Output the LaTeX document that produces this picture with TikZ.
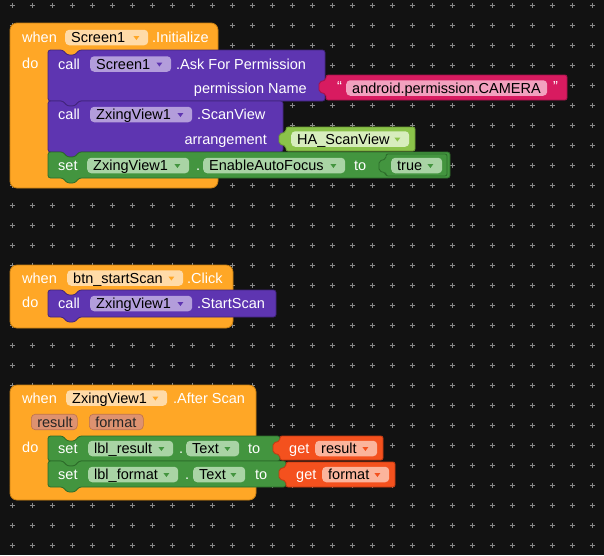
\documentclass[tikz,border=0pt]{standalone}
\usepackage{fontspec}
\setmainfont{Liberation Sans}
\usetikzlibrary{calc}
\definecolor{bg}{HTML}{121212}
\definecolor{gridc}{HTML}{8A8A8A}
\definecolor{evt}{HTML}{FFA726}
\definecolor{evtdk}{HTML}{C77F12}
\definecolor{evtfld}{HTML}{FFDBA8}
\definecolor{prc}{HTML}{5E35B1}
\definecolor{prcdk}{HTML}{41247C}
\definecolor{prcfld}{HTML}{B39DDB}
\definecolor{setg}{HTML}{43953F}
\definecolor{setdk}{HTML}{2C6B2A}
\definecolor{setfld}{HTML}{A9D4A5}
\definecolor{lgr}{HTML}{8BC34A}
\definecolor{lgrdk}{HTML}{6A9A33}
\definecolor{lgrfld}{HTML}{D7EDBD}
\definecolor{txtc}{HTML}{D81B60}
\definecolor{txtdk}{HTML}{A3124A}
\definecolor{txtfld}{HTML}{F2A1BF}
\definecolor{getc}{HTML}{F4511E}
\definecolor{getdk}{HTML}{BF3A12}
\definecolor{getfld}{HTML}{FBB49C}
\definecolor{prm}{HTML}{DE9270}
\definecolor{prmdk}{HTML}{BC7252}
\newcommand\stmtblock[6]{%
 \filldraw[fill=#1, draw=#2, line width=0.8pt, rounded corners=2.5pt] (#3,#4) -- ({#3+15},#4) -- ({#3+19},{#4+5}) -- ({#3+27},{#4+5}) -- ({#3+31},#4) -- ({#3+#5},#4) -- ({#3+#5},{#4+#6}) -- ({#3+31},{#4+#6}) -- ({#3+27},{#4+#6+5}) -- ({#3+19},{#4+#6+5}) -- ({#3+15},{#4+#6}) -- (#3,{#4+#6}) -- cycle;}
\newcommand\valblock[6]{%
 \filldraw[fill=#1, draw=#2, line width=0.8pt, rounded corners=2pt] (#3,#4) -- ({#3+#5},#4) -- ({#3+#5},{#4+#6}) -- (#3,{#4+#6}) -- (#3,{#4+19}) -- ({#3-7},{#4+17}) -- ({#3-7},{#4+7}) -- (#3,{#4+5}) -- cycle;}
\newcommand\dd[2]{\fill[#2] ($(#1.east)+(-15,-1.5)$) -- ++(6,0) -- ++(-3,4) -- cycle;}
\tikzset{
 lbl/.style={anchor=west, inner sep=0pt, text height=10pt, text depth=0pt, text=white, font=\fontsize{14.5}{16}\selectfont},
 lble/.style={lbl, anchor=east},
 fld/.style={anchor=west, inner xsep=6pt, inner ysep=0pt, minimum height=15.5pt, text height=10pt, text depth=0pt, rounded corners=4pt, align=left, text=black, font=\fontsize{14.5}{16}\selectfont},
 prmfld/.style={fld, fill=prm, draw=prmdk, line width=0.6pt, text=black!85}
}
\begin{document}
\begin{tikzpicture}[x=1pt,y=-1pt]
\useasboundingbox (0,0) rectangle (604,555);
\fill[bg] (0,0) rectangle (604,555);
\foreach \i in {0,...,29} \foreach \j in {0,...,27} {
  \draw[gridc, line width=1pt] ({12+20*\i-2.5},{5+20*\j}) -- ++(5,0) ({12+20*\i},{5+20*\j-2.5}) -- ++(0,5);
}
% ---------- block shapes
\filldraw[fill=evt, draw=evtdk, line width=0.8pt, rounded corners=7pt] (10,23) rectangle (218,188);
\stmtblock{prc}{prcdk}{48}{50}{277}{51}
\stmtblock{prc}{prcdk}{48}{101}{235}{51}
\stmtblock{setg}{setdk}{48}{152}{402}{26}
\valblock{txtc}{txtdk}{326}{75}{241}{25}
\valblock{lgr}{lgrdk}{286}{127}{129}{24}
\valblock{setg}{setdk}{386}{154}{61}{22}

\filldraw[fill=evt, draw=evtdk, line width=0.8pt, rounded corners=7pt] (10,265) rectangle (233,328);
\stmtblock{prc}{prcdk}{48}{290}{228}{27}

\filldraw[fill=evt, draw=evtdk, line width=0.8pt, rounded corners=7pt] (10,385) rectangle (256,500);
\stmtblock{setg}{setdk}{48}{436}{232}{25}
\stmtblock{setg}{setdk}{48}{461}{238}{26}
\valblock{getc}{getdk}{280}{436}{103}{24}
\valblock{getc}{getdk}{286}{462}{109}{25}

% ---------- block 1 texts
\node[lbl] (w1) at (22,37.5) {when};
\node[fld, fill=evtfld, text width=71pt] (f1) at (65,37.5) {Screen1}; \dd{f1}{evt}
\node[lbl] (i1) at (152,37.5) {.Initialize};
\node[lbl] (d1) at (22,63) {do};
\node[lbl] (c1) at (58,64) {call};
\node[fld, fill=prcfld, text width=69pt] (f2) at (90,64) {Screen1}; \dd{f2}{prc}
\node[lbl] (a1) at (176,64) {.Ask For Permission};
\node[lble] (p1) at (307,88) {permission Name};
\node[lbl] (q1) at (337,86.5) {“};
\node[fld, fill=txtfld, text width=189pt] (f3) at (346,88) {android.permission.CAMERA};
\node[lbl] (q2) at (553,86.5) {”};
\node[lbl] (c2) at (58,114.5) {call};
\node[fld, fill=prcfld, text width=90pt] (f4) at (90,114.5) {ZxingView1}; \dd{f4}{prc}
\node[lbl] (s1) at (197,114.5) {.ScanView};
\node[lble] (ar) at (267,139) {arrangement};
\node[fld, fill=lgrfld, text width=106pt] (f5) at (291,139) {HA\_ScanView}; \dd{f5}{lgr}
\node[lbl] (st1) at (58,165.5) {set};
\node[fld, fill=setfld, text width=90pt] (f6) at (87,165.5) {ZxingView1}; \dd{f6}{setg}
\node[lbl] (dot1) at (196,165.5) {.};
\node[fld, fill=setfld, text width=130pt] (f7) at (203,165.5) {EnableAutoFocus}; \dd{f7}{setg}
\node[lbl] (to1) at (354,165.5) {to};
\node[fld, fill=setfld, text width=39pt] (f8) at (391,165.5) {true}; \dd{f8}{setg}

% ---------- block 2 texts
\node[lbl] (w2) at (22,278) {when};
\node[fld, fill=evtfld, text width=104pt] (f9) at (67,278) {btn\_startScan}; \dd{f9}{evt}
\node[lbl] (ck) at (187,278) {.Click};
\node[lbl] (d2) at (22,302) {do};
\node[lbl] (c3) at (58,303.5) {call};
\node[fld, fill=prcfld, text width=90pt] (f10) at (90,303.5) {ZxingView1}; \dd{f10}{prc}
\node[lbl] (ss) at (197,303.5) {.StartScan};

% ---------- block 3 texts
\node[lbl] (w3) at (22,398) {when};
\node[fld, fill=evtfld, text width=89pt] (f11) at (66,398) {ZxingView1}; \dd{f11}{evt}
\node[lbl] (as) at (173,398) {.After Scan};
\node[prmfld, text width=34pt] (r1) at (31,422) {result};
\node[prmfld, text width=42pt] (r2) at (89,422) {format};
\node[lbl] (d3) at (22,447) {do};
\node[lbl] (st2) at (58,448.5) {set};
\node[fld, fill=setfld, text width=73pt] (f12) at (88,448.5) {lbl\_result}; \dd{f12}{setg}
\node[lbl] (dot2) at (179,448.5) {.};
\node[fld, fill=setfld, text width=41pt] (f13) at (186,448.5) {Text}; \dd{f13}{setg}
\node[lbl] (to2) at (248,448.5) {to};
\node[lbl] (g1) at (289,448.5) {get};
\node[fld, fill=getfld, text width=50pt] (f14) at (315,448.5) {result}; \dd{f14}{getc}
\node[lbl] (st3) at (58,474.5) {set};
\node[fld, fill=setfld, text width=78pt] (f15) at (88,474.5) {lbl\_format}; \dd{f15}{setg}
\node[lbl] (dot3) at (185,474.5) {.};
\node[fld, fill=setfld, text width=40pt] (f16) at (193,474.5) {Text}; \dd{f16}{setg}
\node[lbl] (to3) at (255,474.5) {to};
\node[lbl] (g2) at (296,474.5) {get};
\node[fld, fill=getfld, text width=55pt] (f17) at (322,474.5) {format}; \dd{f17}{getc}
\end{tikzpicture}
\end{document}
